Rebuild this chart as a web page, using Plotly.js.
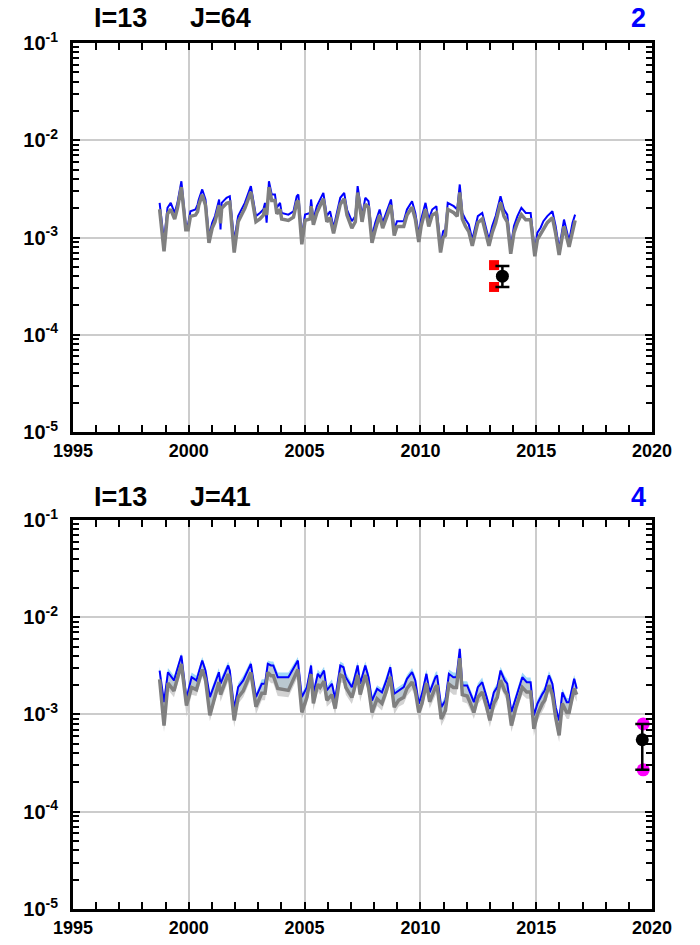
<!DOCTYPE html>
<html>
<head>
<meta charset="utf-8">
<script src="https://cdn.plot.ly/plotly-3.0.1.min.js"></script>
<style>html,body{margin:0;padding:0;background:#fff}#chart{width:700px;height:945px}</style>
</head>
<body>
<div id="chart"></div>
<script>
// ---------- Panel 1 (I=13 J=64) ----------
const p1Years = [
 1998.74,1998.93,1999.08,1999.22,1999.39,1999.51,1999.68,1999.87,1999.97,2000.07,
 2000.29,2000.38,2000.43,2000.58,2000.72,2000.87,2001.01,2001.13,2001.31,2001.37,
 2001.42,2001.63,2001.77,2001.96,2002.13,2002.28,2002.42,2002.68,2002.90,2003.07,
 2003.22,2003.29,2003.36,2003.46,2003.58,2003.72,2003.80,2003.94,2004.01,2004.30,
 2004.52,2004.66,2004.73,2004.88,2005.02,2005.24,2005.28,2005.38,2005.53,2005.81,
 2005.96,2006.10,2006.25,2006.54,2006.71,2006.83,2007.04,2007.19,2007.29,2007.48,
 2007.62,2007.76,2007.91,2008.05,2008.24,2008.37,2008.56,2008.73,2008.87,2008.99,
 2009.28,2009.42,2009.64,2009.78,2009.93,2010.03,2010.22,2010.36,2010.51,2010.69,
 2010.87,2010.98,2011.08,2011.18,2011.44,2011.59,2011.70,2011.81,2011.95,2012.09,
 2012.24,2012.38,2012.48,2012.67,2012.81,2012.96,2013.10,2013.25,2013.46,2013.61,
 2013.75,2013.90,2014.04,2014.19,2014.36,2014.55,2014.76,2014.94,2015.05,2015.19,
 2015.31,2015.48,2015.70,2015.84,2015.99,2016.20,2016.42,2016.57,2016.68];
const p1Blue = [
 2.27e-3,9.2e-4,2.02e-3,2.27e-3,1.79e-3,2.27e-3,3.79e-3,1.36e-3,1.36e-3,1.86e-3,
 1.94e-3,2.18e-3,2.46e-3,3.12e-3,2.46e-3,1.03e-3,1.42e-3,1.66e-3,2.46e-3,1.21e-3,
 2.27e-3,2.56e-3,2.66e-3,9.2e-4,1.66e-3,1.94e-3,2.27e-3,3.37e-3,1.66e-3,1.79e-3,
 1.94e-3,2.27e-3,1.42e-3,3.79e-3,2.77e-3,2.77e-3,2.02e-3,2.27e-3,1.79e-3,1.72e-3,
 1.86e-3,2.66e-3,2.77e-3,1.03e-3,1.72e-3,1.79e-3,2.46e-3,1.53e-3,2.10e-3,2.88e-3,
 1.66e-3,1.86e-3,1.26e-3,2.56e-3,2.88e-3,1.94e-3,1.47e-3,1.66e-3,3.37e-3,1.66e-3,
 2.56e-3,2.36e-3,1.03e-3,1.42e-3,1.94e-3,1.42e-3,1.94e-3,2.46e-3,1.21e-3,1.47e-3,
 1.47e-3,1.94e-3,2.36e-3,1.79e-3,1.07e-3,1.53e-3,2.27e-3,1.53e-3,1.94e-3,2.10e-3,
 8.1e-4,1.16e-3,1.21e-3,2.27e-3,2.10e-3,1.94e-3,3.51e-3,1.79e-3,1.53e-3,1.36e-3,
 9.5e-4,1.31e-3,1.66e-3,1.79e-3,1.31e-3,9.5e-4,1.31e-3,1.66e-3,2.66e-3,1.94e-3,
 1.72e-3,7.9e-4,1.31e-3,1.66e-3,2.02e-3,1.79e-3,1.79e-3,7.2e-4,1.12e-3,1.26e-3,
 1.47e-3,1.66e-3,1.86e-3,1.31e-3,7.6e-4,1.53e-3,9.2e-4,1.42e-3,1.72e-3];
const p1Gray = [
 1.95e-3,7.2e-4,1.75e-3,1.95e-3,1.55e-3,2.0e-3,3.3e-3,1.2e-3,1.2e-3,1.65e-3,
 1.7e-3,1.85e-3,2.15e-3,2.75e-3,2.15e-3,8.8e-4,1.25e-3,1.45e-3,2.15e-3,1.4e-3,
 2.0e-3,2.25e-3,2.3e-3,7.0e-4,1.45e-3,1.7e-3,2.0e-3,2.95e-3,1.45e-3,1.55e-3,
 1.7e-3,2.0e-3,1.7e-3,3.3e-3,2.4e-3,2.4e-3,1.75e-3,1.95e-3,1.55e-3,1.5e-3,
 1.62e-3,2.3e-3,2.4e-3,8.5e-4,1.5e-3,1.55e-3,2.1e-3,1.35e-3,1.8e-3,2.5e-3,
 1.45e-3,1.6e-3,1.1e-3,2.2e-3,2.5e-3,1.7e-3,1.25e-3,1.45e-3,2.9e-3,1.45e-3,
 2.2e-3,2.05e-3,8.8e-4,1.2e-3,1.7e-3,1.25e-3,1.7e-3,2.15e-3,1.05e-3,1.3e-3,
 1.3e-3,1.7e-3,2.05e-3,1.55e-3,9.0e-4,1.3e-3,1.95e-3,1.3e-3,1.7e-3,1.8e-3,
 7.0e-4,1.0e-3,1.05e-3,1.95e-3,1.8e-3,1.65e-3,2.9e-3,1.55e-3,1.3e-3,1.15e-3,
 8.2e-4,1.12e-3,1.42e-3,1.55e-3,1.12e-3,8.2e-4,1.12e-3,1.42e-3,2.3e-3,1.65e-3,
 1.45e-3,6.8e-4,1.12e-3,1.42e-3,1.72e-3,1.52e-3,1.52e-3,6.4e-4,9.5e-4,1.08e-3,
 1.25e-3,1.42e-3,1.6e-3,1.1e-3,6.6e-4,1.3e-3,8.0e-4,1.2e-3,1.5e-3];
const p1SqYears = [2013.18, 2013.18];
const p1SqVals = [5.2e-4, 3.1e-4];
const p1ObsYear = [2013.54];
const p1ObsVal = [4.0e-4];
const p1ObsHi = [5.1e-4];
const p1ObsLo = [3.1e-4];

// ---------- Panel 2 (I=13 J=41) ----------
const p2Years = [
 1998.74,1998.93,1999.10,1999.36,1999.68,1999.90,2000.12,2000.33,2000.58,2000.72,
 2000.91,2001.13,2001.30,2001.37,2001.70,2001.77,2001.96,2002.13,2002.35,2002.68,
 2002.90,2003.15,2003.29,2003.41,2003.55,2003.65,2003.84,2004.30,2004.71,2004.88,
 2005.10,2005.28,2005.38,2005.57,2005.67,2005.84,2005.96,2006.18,2006.32,2006.54,
 2006.68,2006.78,2007.04,2007.11,2007.29,2007.40,2007.62,2007.76,2007.91,2008.13,
 2008.34,2008.53,2008.70,2008.87,2009.06,2009.28,2009.42,2009.64,2009.78,2009.93,
 2010.07,2010.26,2010.40,2010.65,2010.72,2010.90,2011.08,2011.23,2011.42,2011.56,
 2011.70,2011.81,2012.02,2012.16,2012.31,2012.48,2012.67,2012.86,2013.00,2013.17,
 2013.32,2013.46,2013.64,2013.75,2013.93,2014.11,2014.26,2014.40,2014.59,2014.76,
 2014.90,2015.05,2015.27,2015.37,2015.55,2015.70,2015.84,2015.99,2016.13,2016.32,
 2016.42,2016.64,2016.75];
const p2Blue = [
 2.83e-3,1.34e-3,2.72e-3,2.24e-3,4.04e-3,1.46e-3,2.42e-3,2.24e-3,3.59e-3,2.83e-3,
 1.51e-3,2.07e-3,2.72e-3,2.08e-3,3.19e-3,2.83e-3,1.14e-3,1.91e-3,2.24e-3,3.32e-3,
 1.51e-3,2.07e-3,2.07e-3,3.32e-3,3.19e-3,3.19e-3,2.42e-3,2.42e-3,3.59e-3,1.51e-3,
 1.91e-3,3.19e-3,1.63e-3,2.62e-3,2.42e-3,2.83e-3,1.77e-3,2.07e-3,1.45e-3,3.19e-3,
 3.06e-3,2.42e-3,1.91e-3,2.15e-3,3.19e-3,2.07e-3,3.19e-3,2.42e-3,1.39e-3,1.84e-3,
 1.69e-3,2.24e-3,3.06e-3,1.63e-3,1.77e-3,1.91e-3,2.33e-3,2.72e-3,2.24e-3,1.29e-3,
 1.63e-3,2.62e-3,1.69e-3,2.42e-3,2.52e-3,1.19e-3,1.39e-3,2.62e-3,2.42e-3,2.42e-3,
 4.74e-3,1.99e-3,1.99e-3,1.63e-3,1.34e-3,1.91e-3,2.15e-3,1.51e-3,1.14e-3,1.69e-3,
 1.91e-3,2.83e-3,2.24e-3,2.07e-3,1.06e-3,1.45e-3,1.91e-3,2.42e-3,2.15e-3,2.15e-3,
 9.8e-4,1.29e-3,1.63e-3,1.77e-3,2.52e-3,2.07e-3,1.19e-3,8.7e-4,1.69e-3,1.34e-3,
 1.34e-3,2.33e-3,1.84e-3];
const p2Gray = [
 2.3e-3,7.7e-4,2.1e-3,1.75e-3,3.3e-3,1.24e-3,1.9e-3,1.8e-3,2.9e-3,2.3e-3,
 9.8e-4,1.6e-3,2.15e-3,1.6e-3,2.6e-3,2.3e-3,8.7e-4,1.5e-3,1.75e-3,2.7e-3,
 1.2e-3,1.65e-3,1.65e-3,2.7e-3,2.5e-3,2.5e-3,1.85e-3,1.77e-3,2.9e-3,1.05e-3,
 1.5e-3,2.6e-3,1.3e-3,2.05e-3,1.9e-3,2.2e-3,1.4e-3,1.6e-3,1.15e-3,2.55e-3,
 2.45e-3,1.9e-3,1.5e-3,1.7e-3,2.55e-3,1.6e-3,2.55e-3,1.9e-3,1.05e-3,1.45e-3,
 1.3e-3,1.75e-3,2.45e-3,1.19e-3,1.4e-3,1.5e-3,1.85e-3,2.15e-3,1.75e-3,1.05e-3,
 1.3e-3,2.1e-3,1.35e-3,1.9e-3,2.0e-3,9.0e-4,1.1e-3,2.05e-3,1.9e-3,1.9e-3,
 3.8e-3,1.6e-3,1.55e-3,1.3e-3,1.05e-3,1.5e-3,1.7e-3,1.2e-3,8.7e-4,1.3e-3,
 1.5e-3,2.25e-3,1.75e-3,1.6e-3,7.7e-4,1.15e-3,1.5e-3,1.9e-3,1.7e-3,1.7e-3,
 7.1e-4,1.0e-3,1.3e-3,1.4e-3,2.0e-3,1.6e-3,9.3e-4,6.1e-4,1.3e-3,1.05e-3,
 1.05e-3,1.85e-3,1.6e-3];
const p2BlueHi = [
 3.1e-3,1.45e-3,3.0e-3,2.5e-3,4.3e-3,1.6e-3,2.7e-3,2.5e-3,3.9e-3,3.1e-3,
 1.65e-3,2.3e-3,3.0e-3,2.3e-3,3.5e-3,3.1e-3,1.25e-3,2.1e-3,2.5e-3,3.6e-3,
 1.65e-3,2.3e-3,2.3e-3,3.6e-3,3.5e-3,3.5e-3,2.7e-3,2.7e-3,3.9e-3,1.65e-3,
 2.1e-3,3.5e-3,1.8e-3,2.9e-3,2.7e-3,3.1e-3,1.95e-3,2.3e-3,1.6e-3,3.5e-3,
 3.35e-3,2.7e-3,2.1e-3,2.4e-3,3.5e-3,2.3e-3,3.5e-3,2.7e-3,1.55e-3,2.0e-3,
 1.85e-3,2.5e-3,3.35e-3,1.8e-3,1.95e-3,2.1e-3,2.55e-3,3.0e-3,2.5e-3,1.42e-3,
 1.8e-3,2.9e-3,1.85e-3,2.7e-3,2.8e-3,1.3e-3,1.55e-3,2.9e-3,2.7e-3,2.7e-3,
 5.1e-3,2.2e-3,2.2e-3,1.8e-3,1.48e-3,2.1e-3,2.4e-3,1.65e-3,1.25e-3,1.85e-3,
 2.1e-3,3.1e-3,2.5e-3,2.3e-3,1.17e-3,1.6e-3,2.1e-3,2.7e-3,2.4e-3,2.4e-3,
 1.08e-3,1.42e-3,1.8e-3,1.95e-3,2.8e-3,2.3e-3,1.3e-3,9.6e-4,1.85e-3,1.48e-3,
 1.48e-3,2.55e-3,2.0e-3];
const p2GrayLo = [
 1.95e-3,6.6e-4,1.8e-3,1.5e-3,2.8e-3,9.5e-4,1.6e-3,1.55e-3,2.45e-3,1.95e-3,
 8.5e-4,1.35e-3,1.8e-3,1.35e-3,2.2e-3,1.95e-3,7.4e-4,1.28e-3,1.5e-3,2.3e-3,
 1.0e-3,1.4e-3,1.4e-3,2.3e-3,2.1e-3,2.1e-3,1.55e-3,1.5e-3,2.45e-3,9.0e-4,
 1.28e-3,2.2e-3,1.1e-3,1.75e-3,1.6e-3,1.85e-3,1.2e-3,1.35e-3,9.8e-4,2.15e-3,
 2.1e-3,1.6e-3,1.28e-3,1.45e-3,2.15e-3,1.35e-3,2.15e-3,1.6e-3,8.8e-4,1.22e-3,
 1.1e-3,1.5e-3,2.1e-3,1.0e-3,1.2e-3,1.28e-3,1.55e-3,1.8e-3,1.5e-3,8.8e-4,
 1.1e-3,1.8e-3,1.15e-3,1.6e-3,1.7e-3,7.6e-4,9.3e-4,1.75e-3,1.6e-3,1.6e-3,
 3.2e-3,1.35e-3,1.3e-3,1.1e-3,9.0e-4,1.28e-3,1.45e-3,1.0e-3,7.4e-4,1.1e-3,
 1.28e-3,1.9e-3,1.5e-3,1.35e-3,6.6e-4,9.8e-4,1.28e-3,1.6e-3,1.45e-3,1.45e-3,
 6.0e-4,8.5e-4,1.1e-3,1.2e-3,1.7e-3,1.35e-3,7.9e-4,5.2e-4,1.1e-3,9.0e-4,
 9.0e-4,1.55e-3,1.35e-3];
const p2DotYears = [2019.62, 2019.62];
const p2DotVals = [8.0e-4, 2.7e-4];
const p2ObsYear = [2019.58];
const p2ObsVal = [5.5e-4];
const p2ObsHi = [8.0e-4];
const p2ObsLo = [2.7e-4];

const xTicks = [1995, 2000, 2005, 2010, 2015, 2020];
const yDecades = [1e-5, 1e-4, 1e-3, 1e-2, 1e-1];
const yTickText = ["10<sup>-5</sup>", "10<sup>-4</sup>", "10<sup>-3</sup>", "10<sup>-2</sup>", "10<sup>-1</sup>"];
const panelLabels = [["I=13", "J=64", "2"], ["I=13", "J=41", "4"]];

// ---------- styling ----------
const FONT = "Liberation Sans, Arial, sans-serif";
const xMinor = [];
for (let yr = 1996; yr < 2020; yr++) if (yr % 5 !== 0) xMinor.push(yr);
const yMinor = [];
for (let e = -5; e < -1; e++) for (let m = 2; m <= 9; m++) yMinor.push(m * Math.pow(10, e));

function xAxis(anchor) {
  return {
    anchor: anchor, domain: [0, 1], range: [1995, 2020],
    tickmode: 'array', tickvals: xTicks, ticktext: xTicks.map(String),
    ticks: 'inside', ticklen: 7, tickwidth: 2, tickcolor: 'black',
    showline: true, linewidth: 3, linecolor: 'black', mirror: 'allticks',
    showgrid: true, gridcolor: '#cccccc', gridwidth: 2, zeroline: false,
    minor: {tickmode: 'array', tickvals: xMinor, ticks: 'inside', ticklen: 7, tickwidth: 2, tickcolor: 'black', showgrid: false},
    tickfont: {family: FONT, size: 18, color: 'black', weight: 'bold'}
  };
}
function yAxis(anchor, domain) {
  return {
    anchor: anchor, domain: domain, type: 'log', range: [-5, -1],
    tickmode: 'array', tickvals: yDecades, ticktext: yTickText,
    ticks: 'inside', ticklen: 7, tickwidth: 2, tickcolor: 'black',
    showline: true, linewidth: 3, linecolor: 'black', mirror: 'allticks',
    showgrid: true, gridcolor: '#cccccc', gridwidth: 2, zeroline: false,
    minor: {tickmode: 'array', tickvals: yMinor, ticks: 'inside', ticklen: 6, tickwidth: 2, tickcolor: 'black', showgrid: false},
    tickfont: {family: FONT, size: 20, color: 'black', weight: 'bold'},
    ticklabelstandoff: 8
  };
}

const traces = [];
// Panel 1
traces.push({x: p1Years, y: p1Blue, xaxis: 'x', yaxis: 'y', mode: 'lines', line: {color: '#0000ff', width: 2}, hoverinfo: 'skip'});
traces.push({x: p1Years, y: p1Gray, xaxis: 'x', yaxis: 'y', mode: 'lines', line: {color: '#808080', width: 3.5}, hoverinfo: 'skip'});
traces.push({x: p1SqYears, y: p1SqVals, xaxis: 'x', yaxis: 'y', mode: 'markers', cliponaxis: false,
  marker: {symbol: 'square', size: 10, color: '#ff0000'}});
traces.push({x: p1ObsYear, y: p1ObsVal, xaxis: 'x', yaxis: 'y', mode: 'markers', cliponaxis: false,
  marker: {symbol: 'circle', size: 13, color: 'black'},
  error_y: {type: 'data', symmetric: false,
    array: p1ObsHi.map((h, i) => h - p1ObsVal[i]), arrayminus: p1ObsLo.map((l, i) => p1ObsVal[i] - l),
    color: 'black', thickness: 2.5, width: 7}});
// Panel 2
traces.push({x: p2Years, y: p2BlueHi, xaxis: 'x2', yaxis: 'y2', mode: 'lines', line: {width: 0, color: 'rgba(0,0,0,0)'}, hoverinfo: 'skip'});
traces.push({x: p2Years, y: p2Gray, xaxis: 'x2', yaxis: 'y2', mode: 'lines', line: {width: 0, color: 'rgba(0,0,0,0)'}, fill: 'tonexty', fillcolor: '#9fd8f8', hoverinfo: 'skip'});
traces.push({x: p2Years, y: p2Blue, xaxis: 'x2', yaxis: 'y2', mode: 'lines', line: {width: 0, color: 'rgba(0,0,0,0)'}, hoverinfo: 'skip'});
traces.push({x: p2Years, y: p2GrayLo, xaxis: 'x2', yaxis: 'y2', mode: 'lines', line: {width: 0, color: 'rgba(0,0,0,0)'}, fill: 'tonexty', fillcolor: 'rgba(195,195,195,0.75)', hoverinfo: 'skip'});
traces.push({x: p2Years, y: p2Blue, xaxis: 'x2', yaxis: 'y2', mode: 'lines', line: {color: '#0000ff', width: 2}, hoverinfo: 'skip'});
traces.push({x: p2Years, y: p2Gray, xaxis: 'x2', yaxis: 'y2', mode: 'lines', line: {color: '#808080', width: 3.5}, hoverinfo: 'skip'});
traces.push({x: p2DotYears, y: p2DotVals, xaxis: 'x2', yaxis: 'y2', mode: 'markers', cliponaxis: false,
  marker: {symbol: 'circle', size: 13, color: '#ff00ff'}});
traces.push({x: p2ObsYear, y: p2ObsVal, xaxis: 'x2', yaxis: 'y2', mode: 'markers', cliponaxis: false,
  marker: {symbol: 'circle', size: 13, color: 'black'},
  error_y: {type: 'data', symmetric: false,
    array: p2ObsHi.map((h, i) => h - p2ObsVal[i]), arrayminus: p2ObsLo.map((l, i) => p2ObsVal[i] - l),
    color: 'black', thickness: 2.5, width: 7}});

const top1 = [0.5508, 1.0], top2 = [0.0, 0.4492];
function labelAnns(labels, yPaper) {
  return [
    {text: labels[0], x: 0.033, xanchor: 'left'},
    {text: labels[1], x: 0.199, xanchor: 'left'},
    {text: labels[2], x: 0.993, xanchor: 'right', color: '#0000ff'}
  ].map(a => ({xref: 'paper', yref: 'paper', x: a.x, y: yPaper, xanchor: a.xanchor, yanchor: 'middle',
    text: a.text, showarrow: false,
    font: {family: FONT, size: 27, color: a.color || 'black', weight: 'bold'}}));
}

const layout = {
  width: 700, height: 945,
  margin: {l: 73, r: 48, t: 43, b: 36},
  paper_bgcolor: 'white', plot_bgcolor: 'white',
  showlegend: false,
  xaxis: xAxis('y'),
  yaxis: yAxis('x', top1),
  xaxis2: xAxis('y2'),
  yaxis2: yAxis('x2', top2),
  annotations: labelAnns(panelLabels[0], 1.0289).concat(labelAnns(panelLabels[1], 0.4758))
};

Plotly.newPlot('chart', traces, layout, {staticPlot: true});
</script>
</body>
</html>
